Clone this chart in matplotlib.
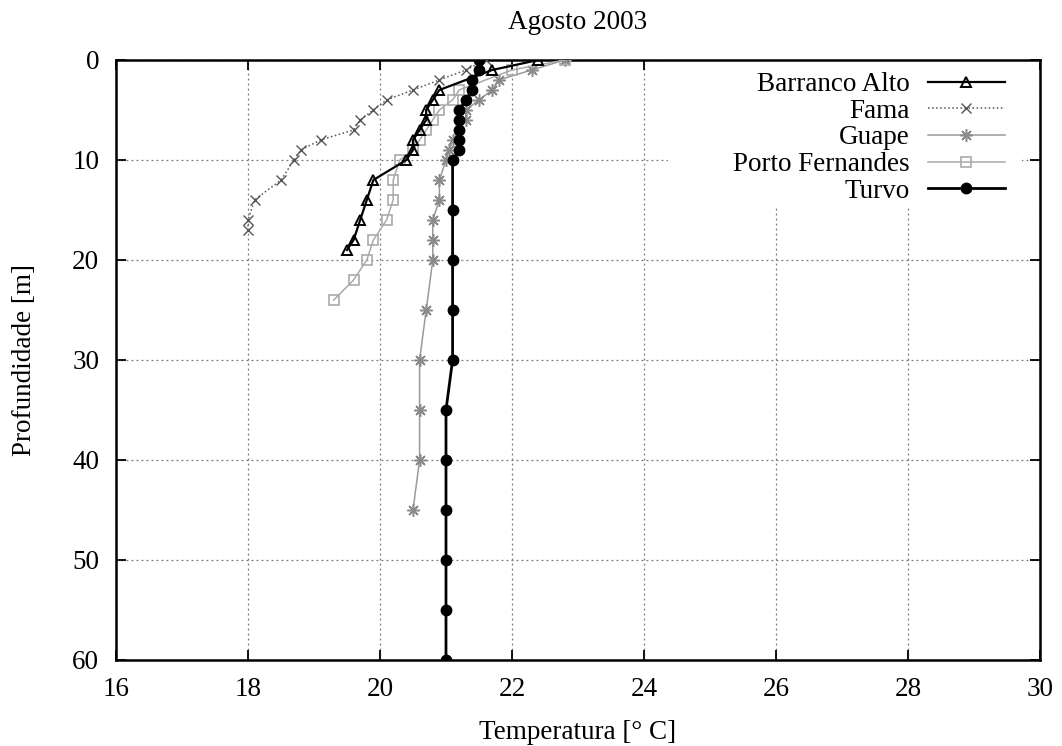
"""Perfis de temperatura por profundidade, Agosto 2003 (estilo gnuplot)."""

import matplotlib

matplotlib.use("Agg")
import matplotlib.pyplot as plt
from matplotlib.patches import Rectangle

plt.rcParams["font.family"] = ["Liberation Serif", "DejaVu Serif"]

# Barranco Alto
ba_temp = [22.4, 21.7, 20.9, 20.8, 20.7, 20.7, 20.6, 20.5, 20.5, 20.4, 19.9, 19.8, 19.7, 19.6, 19.5]
ba_depth = [0, 1, 3, 4, 5, 6, 7, 8, 9, 10, 12, 14, 16, 18, 19]

# Fama
fa_temp = [21.6, 21.3, 20.9, 20.5, 20.1, 19.9, 19.7, 19.6, 19.1, 18.8, 18.7, 18.5, 18.1, 18.0, 18.0]
fa_depth = [0, 1, 2, 3, 4, 5, 6, 7, 8, 9, 10, 12, 14, 16, 17]

# Guape
gu_temp = [22.8, 22.3, 21.8, 21.7, 21.5, 21.3, 21.3, 21.1, 21.05, 21.0, 20.9, 20.9, 20.8, 20.8, 20.8,
           20.7, 20.6, 20.6, 20.6, 20.5]
gu_depth = [0, 1, 2, 3, 4, 5, 6, 8, 9, 10, 12, 14, 16, 18, 20, 25, 30, 35, 40, 45]

# Porto Fernandes
pf_temp = [22.8, 22.0, 21.2, 21.1, 20.9, 20.8, 20.7, 20.6, 20.5, 20.3, 20.2, 20.2, 20.1, 19.9, 19.8,
           19.6, 19.3]
pf_depth = [0, 1, 3, 4, 5, 6, 7, 8, 9, 10, 12, 14, 16, 18, 20, 22, 24]

# Turvo
tu_temp = [21.5, 21.5, 21.4, 21.4, 21.3, 21.2, 21.2, 21.2, 21.2, 21.2, 21.1, 21.1, 21.1, 21.1, 21.1,
           21.0, 21.0, 21.0, 21.0, 21.0, 21.0]
tu_depth = [0, 1, 2, 3, 4, 5, 6, 7, 8, 9, 10, 15, 20, 25, 30, 35, 40, 45, 50, 55, 60]

FS = 19.5

fig = plt.figure(figsize=(10.62, 7.46), dpi=100)
ax = fig.add_axes((0.1092, 0.1153, 0.8701, 0.8043))

ax.plot(ba_temp, ba_depth, "-", color="black", lw=1.6, marker="^", ms=7.5, mfc="none", mec="black",
        mew=1.4, label="Barranco Alto", zorder=4)
ax.plot(fa_temp, fa_depth, ":", color="#555555", lw=1.1, marker="x", ms=7.5, mec="#555555", mew=1.0,
        label="Fama", zorder=3)
ax.plot(gu_temp, gu_depth, "-", color="#9a9a9a", lw=1.1, marker=(8, 2, 0), ms=9, mec="#8a8a8a",
        mew=1.1, label="Guape", zorder=3)
ax.plot(pf_temp, pf_depth, "-", color="#aaaaaa", lw=1.1, marker="s", ms=7, mfc="none", mec="#aaaaaa",
        mew=1.2, label="Porto Fernandes", zorder=3)
ax.plot(tu_temp, tu_depth, "-", color="black", lw=2.0, marker="o", ms=7.5, mfc="black", mec="black",
        label="Turvo", zorder=5)

ax.set_xlim(16, 30)
ax.set_ylim(60, 0)
ax.set_xticks(range(16, 31, 2))
ax.set_yticks(range(0, 61, 10))
ax.tick_params(direction="in", length=7, width=1.3, top=True, right=True, labelsize=FS, pad=12)
ax.grid(True, ls=(0, (1.5, 2.5)), color="#777777", lw=0.9)
for s in ax.spines.values():
    s.set_linewidth(1.8)

# white key box hides the grid behind the legend, as gnuplot does
ax.add_patch(Rectangle((0.597, 0.755), 0.384, 0.245, transform=ax.transAxes, facecolor="white",
                       edgecolor="none", zorder=2))

ax.set_title("Agosto 2003", fontsize=FS, pad=22)
ax.set_xlabel("Temperatura [° C]", fontsize=FS, labelpad=13)
ax.set_ylabel("Profundidade [m]", fontsize=FS, labelpad=25)

leg = ax.legend(loc="upper right", bbox_to_anchor=(0.975, 1.0), fontsize=FS, markerfirst=False,
                frameon=False, handlelength=2.85, handletextpad=0.65, labelspacing=0.06,
                borderpad=0.45, borderaxespad=0.0)
leg.set_zorder(10)

fig.savefig("out.png", dpi=100)
